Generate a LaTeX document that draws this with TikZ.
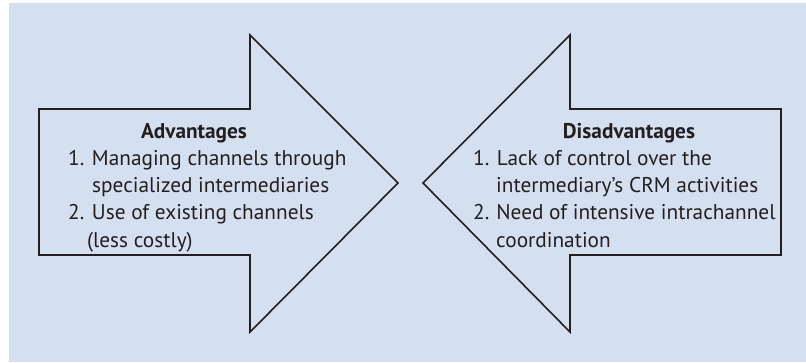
\documentclass[tikz,border=0pt]{standalone}
\usepackage{fontspec}
\setmainfont{PT Sans}
\usepackage{tikz}
\usetikzlibrary{positioning}
\definecolor{panelblue}{HTML}{D4DFF0}
\definecolor{inkgray}{HTML}{231F20}
\tikzset{
  bigarrow/.style={draw=inkgray,line width=1.6pt,fill=panelblue,line join=miter},
  headtext/.style={font=\fontsize{21.3}{27.3}\selectfont\bfseries,text=inkgray,inner sep=0pt},
  listtext/.style={font=\fontsize{21.3}{27.3}\selectfont,text=inkgray,align=left,inner sep=0pt},
}

\begin{document}
\begin{tikzpicture}[x=1pt,y=-1pt]

\useasboundingbox (0,0) rectangle (806,362);
\fill[panelblue] (9,3) rectangle (806,362);

% left arrow, pointing right
\draw[bigarrow] (39,109) -- (250,109) -- (250,35) -- (398,183)
  -- (250,332) -- (250,255) -- (39,255) -- cycle;

% right arrow, pointing left
\draw[bigarrow] (781,109) -- (570,109) -- (570,35) -- (423,183)
  -- (570,332) -- (570,255) -- (781,255) -- cycle;

\node[headtext] (advtitle) at (194,133) {Advantages};
\node[listtext,anchor=north west] (advlist) at (68,150)
{1. Managing channels through\\
\hspace*{24pt}specialized intermediaries\\
2. Use of existing channels\\
\hspace*{19pt}(less costly)};

\node[headtext] (distitle) at (629,133) {Disadvantages};
\node[listtext,anchor=north west] (dislist) at (473,150)
{1. Lack of control over the\\
\hspace*{23pt}intermediary’s CRM activities\\
2.\hspace{7pt}Need of intensive intrachannel\\
\hspace*{23pt}coordination};

\end{tikzpicture}
\end{document}
